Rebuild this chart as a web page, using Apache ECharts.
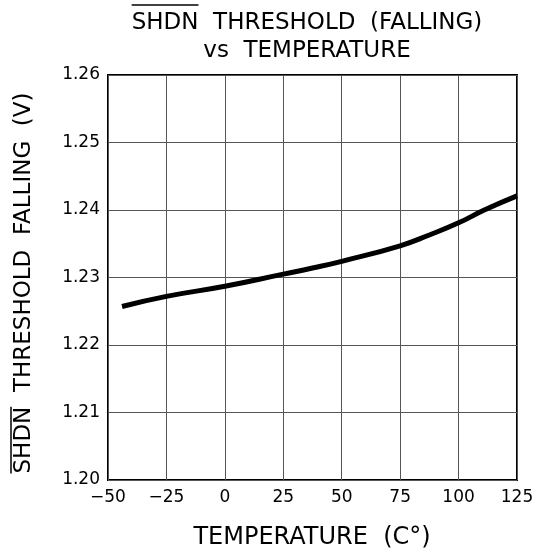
<!DOCTYPE html>
<html><head><meta charset="utf-8">
<script src="https://cdn.jsdelivr.net/npm/echarts@6/dist/echarts.min.js"></script>
<style>html,body{margin:0;padding:0;background:#fff}#c{width:539px;height:559px}</style>
</head><body><div id="c"></div>
<script>
var temps = [-44, -25, 0, 25, 37.5, 50, 75, 87.5, 100, 111, 125];
var volts = [1.2257, 1.2272, 1.2287, 1.2305, 1.2314, 1.2324, 1.2347, 1.2363, 1.2381, 1.2400, 1.2421];
var titleLine1 = 'SHDN  THRESHOLD  (FALLING)';
var titleLine2 = 'vs  TEMPERATURE';
var xName = 'TEMPERATURE  (C°)';
var yName = 'SHDN  THRESHOLD  FALLING  (V)';
var overlined = 'SHDN';
var font = 'DejaVu Sans';

var ctx = document.createElement('canvas').getContext('2d');
function tw(s, size){ ctx.font = size + 'px "' + font + '"'; return ctx.measureText(s).width; }

var tSize = 23, ySize = 23, xSize = 24;
var tCx = 307, tY1 = 23, tY2 = 51;
var yCx = 24.5, yCy = 283;
var t1w = tw(titleLine1, tSize), t1o = tw(overlined, tSize);
var yw = tw(yName, ySize), yo = tw(overlined, ySize);

var chart = echarts.init(document.getElementById('c'));
var data = temps.map(function(t,i){return [t, volts[i]];});
function txt(s, size){ return {text:s, fontFamily:font, fontSize:size, fill:'#000', align:'center', verticalAlign:'middle'}; }
chart.setOption({
  animation:false,
  backgroundColor:'#fff',
  grid:{left:108, right:22, top:75, bottom:79, show:true, borderColor:'#000', borderWidth:2},
  xAxis:{type:'value', min:-50, max:125, interval:25,
    axisLine:{show:false}, axisTick:{show:false},
    axisLabel:{fontFamily:font, fontSize:17, color:'#000', margin:9,
      formatter:function(v){return String(v).replace('-', '\u2212');}},
    splitLine:{show:true, lineStyle:{color:'#555', width:1}}},
  yAxis:{type:'value', min:1.20, max:1.26, interval:0.01,
    axisLine:{show:false}, axisTick:{show:false},
    axisLabel:{fontFamily:font, fontSize:17, color:'#000', margin:8,
      formatter:function(v){return v.toFixed(2);}},
    splitLine:{show:true, lineStyle:{color:'#555', width:1}}},
  series:[{type:'line', data:data, smooth:0.5, showSymbol:false,
    lineStyle:{color:'#000', width:5}}],
  graphic:[
    {type:'text', x:tCx, y:tY1, style:txt(titleLine1, tSize)},
    {type:'text', x:tCx, y:tY2, style:txt(titleLine2, tSize)},
    {type:'line', shape:{x1:tCx - t1w/2, y1:5, x2:tCx - t1w/2 + t1o, y2:5}, style:{stroke:'#000', lineWidth:1.5}},
    {type:'text', x:312, y:538, style:txt(xName, xSize)},
    {type:'text', x:yCx, y:yCy, rotation:Math.PI/2, style:txt(yName, ySize)},
    {type:'line', shape:{x1:11, y1:yCy + yw/2 - yo, x2:11, y2:yCy + yw/2}, style:{stroke:'#000', lineWidth:1.5}}
  ]
});
</script></body></html>
